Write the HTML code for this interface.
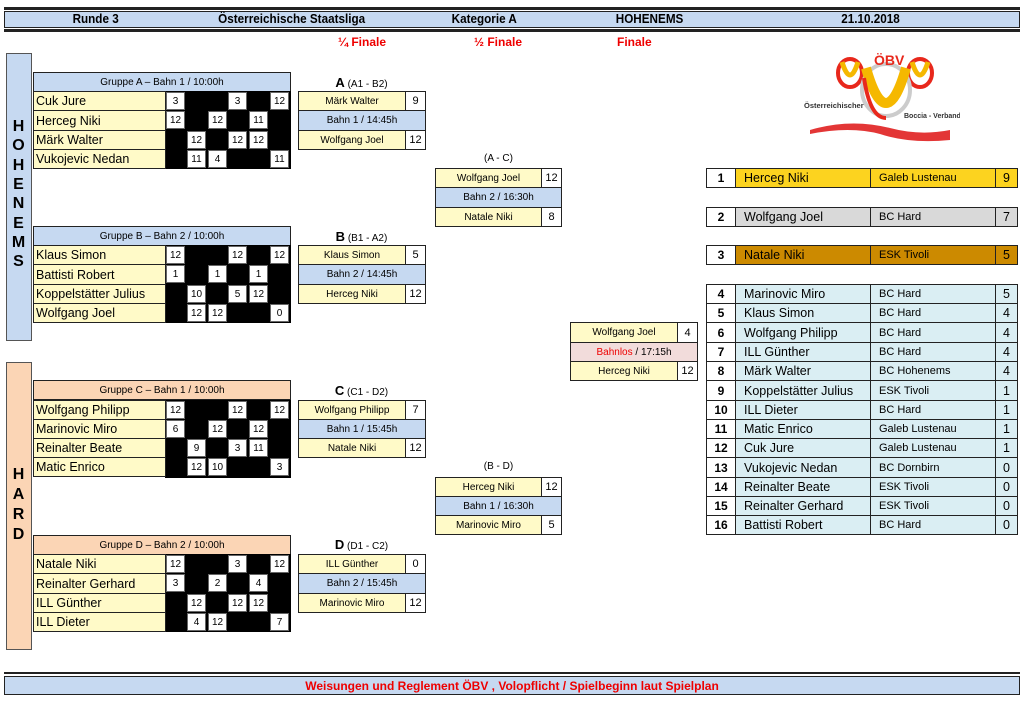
<!DOCTYPE html>
<html><head><meta charset="utf-8"><style>
body{margin:0;width:1024px;height:704px;background:#fff;position:relative;overflow:hidden;font-family:"Liberation Sans",sans-serif;color:#000}
div{position:absolute;box-sizing:border-box}
.b{border:1px solid #222;display:flex;align-items:center;justify-content:center;font-size:10px;height:20px;white-space:nowrap}
.y{background:#fffac8}.bl{background:#c6d9f1}.pe{background:#fbd5b5}.w{background:#fff}
.n{justify-content:flex-start;padding-left:2px;font-size:12.5px}
.blk{background:#000;height:78px;width:126px;left:165px}
.g{width:19px;height:18px;background:#fff;border:1px solid #666;display:flex;align-items:center;justify-content:center;font-size:10px}
.h{font-weight:bold;font-size:13px;top:11px;transform:scaleX(.9)}
.lab{font-size:10px;width:127px;text-align:center}
.lab b{font-size:13px}
.r{font-weight:bold;font-size:12px}
.sn{justify-content:flex-start;padding-left:8px;font-size:12.5px}
.sc{justify-content:flex-start;padding-left:8px;font-size:11px}
.lt{background:#daeef3}
.L{font-weight:bold;font-size:16px;width:25px;text-align:center;left:6px}
</style></head><body>
<!-- header -->
<div style="left:4px;top:7px;width:1016px;height:3px;background:#222"></div>
<div style="left:4px;top:11px;width:1016px;height:17px;background:#c6d9f1;border:1px solid #222"></div>
<div style="left:4px;top:29px;width:1016px;height:3px;background:#222"></div>
<div class="h" style="left:70px">Runde 3</div>
<div class="h" style="left:210px">Österreichische Staatsliga</div>
<div class="h" style="left:448px">Kategorie A</div>
<div class="h" style="left:612px">HOHENEMS</div>
<div class="h" style="left:838px">21.10.2018</div>
<div style="left:338px;top:35px;color:#e00;font-weight:bold;font-size:12px">¼ Finale</div>
<div style="left:474px;top:35px;color:#e00;font-weight:bold;font-size:12px">½ Finale</div>
<div style="left:617px;top:35px;color:#e00;font-weight:bold;font-size:12px">Finale</div>
<!-- side panels -->
<div style="left:6px;top:53px;width:26px;height:288px;background:#c6d9f1;border:1px solid #555"></div>
<div style="left:6px;top:362px;width:26px;height:288px;background:#fbd5b5;border:1px solid #555"></div>
<div class="L" style="top:118px">H</div><div class="L" style="top:137px">O</div><div class="L" style="top:157px">H</div><div class="L" style="top:176px">E</div><div class="L" style="top:195px">N</div><div class="L" style="top:215px">E</div><div class="L" style="top:234px">M</div><div class="L" style="top:253px">S</div>
<div class="L" style="top:466px">H</div><div class="L" style="top:486px">A</div><div class="L" style="top:506px">R</div><div class="L" style="top:526px">D</div>

<!-- Group A -->
<div class="b bl" style="left:33px;top:72px;width:258px">Gruppe A – Bahn 1 / 10:00h</div>
<div class="blk" style="top:91px"></div>
<div class="b y n" style="left:33px;top:91px;width:133px">Cuk Jure</div>
<div class="b y n" style="left:33px;top:110px;width:133px;height:21px">Herceg Niki</div>
<div class="b y n" style="left:33px;top:130px;width:133px">Märk Walter</div>
<div class="b y n" style="left:33px;top:149px;width:133px">Vukojevic Nedan</div>
<div class="g" style="left:166px;top:92px">3</div><div class="g" style="left:228px;top:92px">3</div><div class="g" style="left:270px;top:92px">12</div>
<div class="g" style="left:166px;top:111px">12</div><div class="g" style="left:208px;top:111px">12</div><div class="g" style="left:249px;top:111px">11</div>
<div class="g" style="left:187px;top:131px">12</div><div class="g" style="left:228px;top:131px">12</div><div class="g" style="left:249px;top:131px">12</div>
<div class="g" style="left:187px;top:150px">11</div><div class="g" style="left:208px;top:150px">4</div><div class="g" style="left:270px;top:150px">11</div>

<!-- Group B -->
<div class="b bl" style="left:33px;top:226px;width:258px">Gruppe B – Bahn 2 / 10:00h</div>
<div class="blk" style="top:245px"></div>
<div class="b y n" style="left:33px;top:245px;width:133px">Klaus Simon</div>
<div class="b y n" style="left:33px;top:264px;width:133px;height:21px">Battisti Robert</div>
<div class="b y n" style="left:33px;top:284px;width:133px">Koppelstätter Julius</div>
<div class="b y n" style="left:33px;top:303px;width:133px">Wolfgang Joel</div>
<div class="g" style="left:166px;top:246px">12</div><div class="g" style="left:228px;top:246px">12</div><div class="g" style="left:270px;top:246px">12</div>
<div class="g" style="left:166px;top:265px">1</div><div class="g" style="left:208px;top:265px">1</div><div class="g" style="left:249px;top:265px">1</div>
<div class="g" style="left:187px;top:285px">10</div><div class="g" style="left:228px;top:285px">5</div><div class="g" style="left:249px;top:285px">12</div>
<div class="g" style="left:187px;top:304px">12</div><div class="g" style="left:208px;top:304px">12</div><div class="g" style="left:270px;top:304px">0</div>

<!-- Group C -->
<div class="b pe" style="left:33px;top:380px;width:258px">Gruppe C – Bahn 1 / 10:00h</div>
<div class="blk" style="top:400px"></div>
<div class="b y n" style="left:33px;top:400px;width:133px">Wolfgang Philipp</div>
<div class="b y n" style="left:33px;top:419px;width:133px">Marinovic Miro</div>
<div class="b y n" style="left:33px;top:438px;width:133px">Reinalter Beate</div>
<div class="b y n" style="left:33px;top:457px;width:133px">Matic Enrico</div>
<div class="g" style="left:166px;top:401px">12</div><div class="g" style="left:228px;top:401px">12</div><div class="g" style="left:270px;top:401px">12</div>
<div class="g" style="left:166px;top:420px">6</div><div class="g" style="left:208px;top:420px">12</div><div class="g" style="left:249px;top:420px">12</div>
<div class="g" style="left:187px;top:439px">9</div><div class="g" style="left:228px;top:439px">3</div><div class="g" style="left:249px;top:439px">11</div>
<div class="g" style="left:187px;top:458px">12</div><div class="g" style="left:208px;top:458px">10</div><div class="g" style="left:270px;top:458px">3</div>

<!-- Group D -->
<div class="b pe" style="left:33px;top:535px;width:258px">Gruppe D – Bahn 2 / 10:00h</div>
<div class="blk" style="top:554px"></div>
<div class="b y n" style="left:33px;top:554px;width:133px">Natale Niki</div>
<div class="b y n" style="left:33px;top:573px;width:133px;height:21px">Reinalter Gerhard</div>
<div class="b y n" style="left:33px;top:593px;width:133px">ILL Günther</div>
<div class="b y n" style="left:33px;top:612px;width:133px">ILL Dieter</div>
<div class="g" style="left:166px;top:555px">12</div><div class="g" style="left:228px;top:555px">3</div><div class="g" style="left:270px;top:555px">12</div>
<div class="g" style="left:166px;top:574px">3</div><div class="g" style="left:208px;top:574px">2</div><div class="g" style="left:249px;top:574px">4</div>
<div class="g" style="left:187px;top:594px">12</div><div class="g" style="left:228px;top:594px">12</div><div class="g" style="left:249px;top:594px">12</div>
<div class="g" style="left:187px;top:613px">4</div><div class="g" style="left:208px;top:613px">12</div><div class="g" style="left:270px;top:613px">7</div>

<!-- QF -->
<div class="lab" style="left:298px;top:75px"><b>A</b> (A1 - B2)</div>
<div class="b y" style="left:298px;top:91px;width:108px">Märk Walter</div><div class="b w" style="left:405px;top:91px;width:21px;font-size:11px">9</div>
<div class="b bl" style="left:298px;top:110px;width:128px;height:21px">Bahn 1 / 14:45h</div>
<div class="b y" style="left:298px;top:130px;width:108px">Wolfgang Joel</div><div class="b w" style="left:405px;top:130px;width:21px;font-size:11px">12</div>

<div class="lab" style="left:298px;top:229px"><b>B</b> (B1 - A2)</div>
<div class="b y" style="left:298px;top:245px;width:108px">Klaus Simon</div><div class="b w" style="left:405px;top:245px;width:21px;font-size:11px">5</div>
<div class="b bl" style="left:298px;top:264px;width:128px;height:21px">Bahn 2 / 14:45h</div>
<div class="b y" style="left:298px;top:284px;width:108px">Herceg Niki</div><div class="b w" style="left:405px;top:284px;width:21px;font-size:11px">12</div>

<div class="lab" style="left:298px;top:383px"><b>C</b> (C1 - D2)</div>
<div class="b y" style="left:298px;top:400px;width:108px">Wolfgang Philipp</div><div class="b w" style="left:405px;top:400px;width:21px;font-size:11px">7</div>
<div class="b bl" style="left:298px;top:419px;width:128px">Bahn 1 / 15:45h</div>
<div class="b y" style="left:298px;top:438px;width:108px">Natale Niki</div><div class="b w" style="left:405px;top:438px;width:21px;font-size:11px">12</div>

<div class="lab" style="left:298px;top:537px"><b>D</b> (D1 - C2)</div>
<div class="b y" style="left:298px;top:554px;width:108px">ILL Günther</div><div class="b w" style="left:405px;top:554px;width:21px;font-size:11px">0</div>
<div class="b bl" style="left:298px;top:573px;width:128px;height:21px">Bahn 2 / 15:45h</div>
<div class="b y" style="left:298px;top:593px;width:108px">Marinovic Miro</div><div class="b w" style="left:405px;top:593px;width:21px;font-size:11px">12</div>

<!-- SF -->
<div class="lab" style="left:435px;top:153px">(A - C)</div>
<div class="b y" style="left:435px;top:168px;width:107px">Wolfgang Joel</div><div class="b w" style="left:541px;top:168px;width:21px;font-size:11px">12</div>
<div class="b bl" style="left:435px;top:187px;width:127px;height:21px">Bahn 2 / 16:30h</div>
<div class="b y" style="left:435px;top:207px;width:107px">Natale Niki</div><div class="b w" style="left:541px;top:207px;width:21px;font-size:11px">8</div>

<div class="lab" style="left:435px;top:461px">(B - D)</div>
<div class="b y" style="left:435px;top:477px;width:107px">Herceg Niki</div><div class="b w" style="left:541px;top:477px;width:21px;font-size:11px">12</div>
<div class="b bl" style="left:435px;top:496px;width:127px">Bahn 1 / 16:30h</div>
<div class="b y" style="left:435px;top:515px;width:107px">Marinovic Miro</div><div class="b w" style="left:541px;top:515px;width:21px;font-size:11px">5</div>

<!-- Final -->
<div class="b y" style="left:570px;top:322px;width:108px;height:21px">Wolfgang Joel</div><div class="b w" style="left:677px;top:322px;width:21px;height:21px;font-size:11px">4</div>
<div class="b" style="left:570px;top:342px;width:128px;background:#f2dcdb"><span style="color:#e00">Bahnlos</span>&nbsp;/ 17:15h</div>
<div class="b y" style="left:570px;top:361px;width:108px">Herceg Niki</div><div class="b w" style="left:677px;top:361px;width:21px;font-size:11px">12</div>

<!-- Standings top 3 -->
<div class="b w r" style="left:706px;top:168px;width:30px">1</div><div class="b sn" style="left:735px;top:168px;width:136px;background:#fcd31f">Herceg Niki</div><div class="b sc" style="left:870px;top:168px;width:126px;background:#fcd31f">Galeb Lustenau</div><div class="b" style="left:995px;top:168px;width:23px;background:#fcd31f;font-size:12.5px">9</div>
<div class="b w r" style="left:706px;top:207px;width:30px">2</div><div class="b sn" style="left:735px;top:207px;width:136px;background:#d9d9d9">Wolfgang Joel</div><div class="b sc" style="left:870px;top:207px;width:126px;background:#d9d9d9">BC Hard</div><div class="b" style="left:995px;top:207px;width:23px;background:#d9d9d9;font-size:12.5px">7</div>
<div class="b w r" style="left:706px;top:245px;width:30px">3</div><div class="b sn" style="left:735px;top:245px;width:136px;background:#cc8a00">Natale Niki</div><div class="b sc" style="left:870px;top:245px;width:126px;background:#cc8a00">ESK Tivoli</div><div class="b" style="left:995px;top:245px;width:23px;background:#cc8a00;font-size:12.5px">5</div>

<!-- Standings 4-16 -->
<div class="b w r" style="left:706px;top:284px;width:30px">4</div><div class="b sn lt" style="left:735px;top:284px;width:136px">Marinovic Miro</div><div class="b sc lt" style="left:870px;top:284px;width:126px">BC Hard</div><div class="b lt" style="left:995px;top:284px;width:23px;font-size:12.5px">5</div>
<div class="b w r" style="left:706px;top:303px;width:30px">5</div><div class="b sn lt" style="left:735px;top:303px;width:136px">Klaus Simon</div><div class="b sc lt" style="left:870px;top:303px;width:126px">BC Hard</div><div class="b lt" style="left:995px;top:303px;width:23px;font-size:12.5px">4</div>
<div class="b w r" style="left:706px;top:322px;width:30px;height:21px">6</div><div class="b sn lt" style="left:735px;top:322px;width:136px;height:21px">Wolfgang Philipp</div><div class="b sc lt" style="left:870px;top:322px;width:126px;height:21px">BC Hard</div><div class="b lt" style="left:995px;top:322px;width:23px;height:21px;font-size:12.5px">4</div>
<div class="b w r" style="left:706px;top:342px;width:30px">7</div><div class="b sn lt" style="left:735px;top:342px;width:136px">ILL Günther</div><div class="b sc lt" style="left:870px;top:342px;width:126px">BC Hard</div><div class="b lt" style="left:995px;top:342px;width:23px;font-size:12.5px">4</div>
<div class="b w r" style="left:706px;top:361px;width:30px">8</div><div class="b sn lt" style="left:735px;top:361px;width:136px">Märk Walter</div><div class="b sc lt" style="left:870px;top:361px;width:126px">BC Hohenems</div><div class="b lt" style="left:995px;top:361px;width:23px;font-size:12.5px">4</div>
<div class="b w r" style="left:706px;top:380px;width:30px;height:21px">9</div><div class="b sn lt" style="left:735px;top:380px;width:136px;height:21px">Koppelstätter Julius</div><div class="b sc lt" style="left:870px;top:380px;width:126px;height:21px">ESK Tivoli</div><div class="b lt" style="left:995px;top:380px;width:23px;height:21px;font-size:12.5px">1</div>
<div class="b w r" style="left:706px;top:400px;width:30px">10</div><div class="b sn lt" style="left:735px;top:400px;width:136px">ILL Dieter</div><div class="b sc lt" style="left:870px;top:400px;width:126px">BC Hard</div><div class="b lt" style="left:995px;top:400px;width:23px;font-size:12.5px">1</div>
<div class="b w r" style="left:706px;top:419px;width:30px">11</div><div class="b sn lt" style="left:735px;top:419px;width:136px">Matic Enrico</div><div class="b sc lt" style="left:870px;top:419px;width:126px">Galeb Lustenau</div><div class="b lt" style="left:995px;top:419px;width:23px;font-size:12.5px">1</div>
<div class="b w r" style="left:706px;top:438px;width:30px">12</div><div class="b sn lt" style="left:735px;top:438px;width:136px">Cuk Jure</div><div class="b sc lt" style="left:870px;top:438px;width:126px">Galeb Lustenau</div><div class="b lt" style="left:995px;top:438px;width:23px;font-size:12.5px">1</div>
<div class="b w r" style="left:706px;top:457px;width:30px;height:21px">13</div><div class="b sn lt" style="left:735px;top:457px;width:136px;height:21px">Vukojevic Nedan</div><div class="b sc lt" style="left:870px;top:457px;width:126px;height:21px">BC Dornbirn</div><div class="b lt" style="left:995px;top:457px;width:23px;height:21px;font-size:12.5px">0</div>
<div class="b w r" style="left:706px;top:477px;width:30px">14</div><div class="b sn lt" style="left:735px;top:477px;width:136px">Reinalter Beate</div><div class="b sc lt" style="left:870px;top:477px;width:126px">ESK Tivoli</div><div class="b lt" style="left:995px;top:477px;width:23px;font-size:12.5px">0</div>
<div class="b w r" style="left:706px;top:496px;width:30px">15</div><div class="b sn lt" style="left:735px;top:496px;width:136px">Reinalter Gerhard</div><div class="b sc lt" style="left:870px;top:496px;width:126px">ESK Tivoli</div><div class="b lt" style="left:995px;top:496px;width:23px;font-size:12.5px">0</div>
<div class="b w r" style="left:706px;top:515px;width:30px">16</div><div class="b sn lt" style="left:735px;top:515px;width:136px">Battisti Robert</div><div class="b sc lt" style="left:870px;top:515px;width:126px">BC Hard</div><div class="b lt" style="left:995px;top:515px;width:23px;font-size:12.5px">0</div>

<!-- Logo -->
<svg style="position:absolute;left:800px;top:48px" width="160" height="96" viewBox="0 0 160 96">
<path d="M20 40 Q30 100 100 70 L150 78 L150 92 Q90 80 60 86 Q30 88 10 80 Z" fill="#fff"/>
<path d="M10 82 Q50 70 90 80 Q120 88 150 82 L150 92 Q110 96 80 86 Q50 78 10 86Z" fill="#e02020" opacity=".9"/>
<ellipse cx="50" cy="25" rx="12" ry="14" fill="none" stroke="#e8281c" stroke-width="4"/>
<path d="M42 14 Q50 40 58 14" fill="none" stroke="#f5b800" stroke-width="5"/>
<ellipse cx="120" cy="25" rx="12" ry="14" fill="none" stroke="#e8281c" stroke-width="4"/>
<path d="M112 14 Q120 40 128 14" fill="none" stroke="#f5b800" stroke-width="5"/>
<ellipse cx="86" cy="42" rx="24" ry="26" fill="none" stroke="#ccc" stroke-width="4"/>
<path d="M66 20 Q86 90 106 20" fill="none" stroke="#f5b800" stroke-width="10"/>
<path d="M64 30 Q70 70 86 70" fill="none" stroke="#e8281c" stroke-width="4"/>
<text x="74" y="17" font-family="Liberation Sans" font-weight="bold" font-size="14" fill="#e8281c">ÖBV</text>
<text x="4" y="60" font-family="Liberation Sans" font-weight="bold" font-size="7.5" fill="#333">Österreichischer</text>
<text x="104" y="70" font-family="Liberation Sans" font-weight="bold" font-size="7" fill="#333">Boccia - Verband</text>
</svg>

<!-- Footer -->
<div style="left:4px;top:672px;width:1016px;height:2px;background:#222"></div>
<div style="left:4px;top:676px;width:1016px;height:19px;background:#c6d9f1;border:1px solid #222;display:flex;align-items:center;justify-content:center;color:#e00;font-weight:bold;font-size:12px">Weisungen und Reglement ÖBV , Volopflicht / Spielbeginn laut Spielplan</div>
</body></html>
